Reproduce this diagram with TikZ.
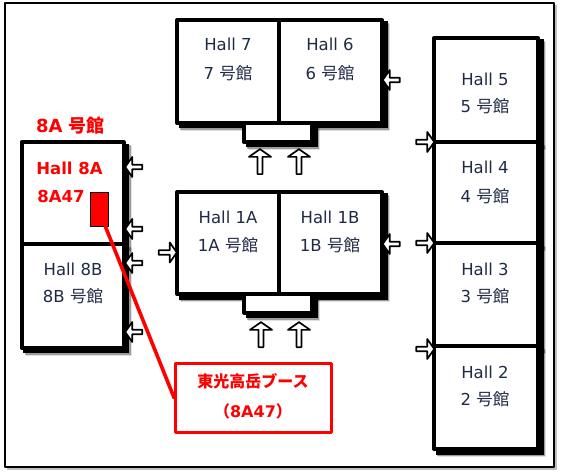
\documentclass[tikz,border=0pt]{standalone}
\usepackage{fontspec}
\setmainfont{DejaVu Sans}
\newfontfamily\jpfont{Noto Sans CJK JP}
\usepackage{xcolor}
\usetikzlibrary{shapes.arrows}

\definecolor{hallink}{HTML}{1F2A44}
\definecolor{boothred}{HTML}{FF0000}
\newcommand{\gokan}{{\jpfont 号館}}

\tikzset{
	hallbox/.style={draw=black, line width=4pt, fill=white, inner sep=0pt, outer sep=0pt},
	hallshadow/.style={fill=black, inner sep=0pt, outer sep=0pt},
	gatearrow/.style={single arrow, draw=black, line width=1.7pt, fill=white, inner sep=0pt, outer sep=0pt,
		single arrow head extend=3pt, single arrow tip angle=110},
	halltext/.style={font=\fontsize{16.5}{18}\selectfont, text=hallink, inner sep=0pt, yshift=-1pt},
	redtext/.style={font=\fontsize{16.5}{18}\selectfont\bfseries, text=boothred, inner sep=0pt, yshift=-1pt},
}

% name/x/y/width/height of each box
\newcommand{\hallboxes}{
	entrancetop/278/132.5/68/19, entrancemid/278/303/68/19,
	hallsevn/228/71.5/102/103, hallsix/330.5/71.5/103/103,
	hallonea/228/243/102/102, halloneb/330.5/243/103/102,
	halleighta/72.5/193/102/101, halleightb/72.5/295.5/102/104,
	hallfive/486/90/104/104, hallfour/486/192.5/104/101,
	hallthree/486/294.5/104/103, halltwo/486/397.5/104/103}

\begin{document}
\begin{tikzpicture}[x=1pt, y=-1pt, line cap=round, line join=round]
	
	\useasboundingbox (0,0) rectangle (562,473);
	
	% Outer frame
	\fill[black, opacity=.25] (7,5) rectangle (557,470);
	\node[draw=black, line width=1.8pt, fill=white, minimum width=549pt, minimum height=464pt] (frame) at (279.5,235) {};
	
	% Shadows, soft edge first
	\foreach \boxname/\x/\y/\w/\h in \hallboxes {
		\node[hallshadow, opacity=.12, minimum width=\w pt+4pt, minimum height=\h pt+4pt] at (\x+6,\y+6) {};
		\node[hallshadow, opacity=.3, minimum width=\w pt+4pt, minimum height=\h pt+4pt] at (\x+5,\y+5) {};
		\node[hallshadow, minimum width=\w pt+4pt, minimum height=\h pt+4pt] at (\x+3.5,\y+3.5) {};
	}
	
	% Halls and entrances
	\foreach \boxname/\x/\y/\w/\h in \hallboxes
		\node[hallbox, minimum width=\w pt, minimum height=\h pt] (\boxname) at (\x,\y) {};
	
	% Hall names
	\foreach \labelname/\x/\y/\txt in {
		nameseven/228/43/Hall 7, namesevenj/228/72/7 \gokan,
		namesix/330/43/Hall 6, namesixj/330/72/6 \gokan,
		nameonea/228/216/Hall 1A, nameoneaj/228/244/1A \gokan,
		nameoneb/330/216/Hall 1B, nameonebj/330/244/1B \gokan,
		nameeightb/73/268/Hall 8B, nameeightbj/73/295/8B \gokan,
		namefive/485/78/Hall 5, namefivej/485/105/5 \gokan,
		namefour/485/166/Hall 4, namefourj/485/195/4 \gokan,
		namethree/485/268/Hall 3, namethreej/485/295/3 \gokan,
		nametwo/485/371/Hall 2, nametwoj/485/398/2 \gokan}
		\node[halltext] (\labelname) at (\x,\y) {\txt};
	
	% Red labels
	\node[redtext, font=\fontsize{18}{20}\selectfont\bfseries] (nameeightaj) at (70.5,125) {8A \gokan};
	\node[redtext] (nameeighta) at (69.5,167) {Hall 8A};
	\node[redtext] (boothno) at (61,195) {8A47};
	
	% Entrance arrows
	\foreach \gatename/\x/\y/\turn/\len/\wid in {
		gatea/392/80/180/17/20,
		gateb/260/162.5/90/25/22, gatec/299/162.5/90/25/22,
		gated/261/335.5/90/25/22, gatee/299/335.5/90/25/22,
		gatef/392/244/180/17/20, gateg/167/252.5/0/18/20,
		gateh/134.5/167/180/17/20, gatei/134.5/229/180/17/20,
		gatej/134.5/263/180/17/20, gatek/134.5/332/180/17/20,
		gatel/424.5/142/0/18/20, gatem/424.5/243/0/18/20,
		gaten/424.5/349/0/18/20}
		\node[gatearrow, rotate=\turn, minimum height=\len pt, minimum width=\wid pt] (\gatename) at (\x,\y) {};
	
	% Booth and callout
	\node[draw=black, line width=.8pt, fill=boothred, minimum width=18pt, minimum height=34pt, inner sep=0pt] (booth) at (99,209) {};
	\node[draw=boothred, line width=2.6pt, fill=white, minimum width=156pt, minimum height=69pt, inner sep=0pt] (boothbox) at (253.5,398) {};
	\node[redtext, font=\fontsize{16}{18}\selectfont\bfseries\jpfont] (boothname) at (253,380) {東光高岳ブース};
	\node[redtext, font=\fontsize{16}{18}\selectfont\bfseries] (boothcode) at (253,410) {{\jpfont （}8A47{\jpfont ）}};
	\draw[boothred, line width=3.6pt] (booth.-70) -- (boothbox.west);
	
\end{tikzpicture}
\end{document}
